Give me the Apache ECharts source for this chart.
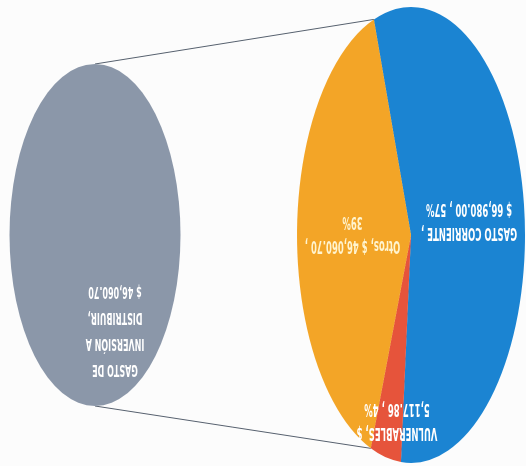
<!DOCTYPE html>
<html>
<head>
<meta charset="utf-8">
<script src="https://cdn.jsdelivr.net/npm/echarts@6/dist/echarts.min.js"></script>
<style>
html,body{margin:0;padding:0;width:526px;height:466px;overflow:hidden;background:#fcfcfc;}
#c{position:absolute;left:-263px;top:0;width:1052px;height:466px;transform:scale(-0.5,-1);transform-origin:50% 50%;}
</style>
</head>
<body>
<div id="c"></div>
<script>
// ---- data ----
const categories = ['GASTO CORRIENTE', 'VULNERABLES', 'Otros'];
const values = [66980.00, 5117.86, 46060.70];
const subCategories = ['GASTO DE INVERSIÓN A DISTRIBUIR'];
const subValues = [46060.70];

// ---- layout / style ----
const colors = ['#1b84d2', '#e6543b', '#f3a527'];
const subColor = '#8b97a9';
const MAIN = {cx: 230, cy: 231, r: 228, startCW: 161};
const SUB = {cx: 862, cy: 231, r: 171};

function fmt(v) {
  const s = v.toFixed(2).split('.');
  return s[0].replace(/\B(?=(\d{3})+(?!\d))/g, ',') + '.' + s[1];
}
const total = values.reduce((a, b) => a + b, 0);
function pct(v) { return Math.round(v / total * 100); }

const mainLabel = function (p) {
  const v = fmt(p.value), q = pct(p.value);
  if (p.dataIndex === 0) return p.name + ' ,\n$ ' + v + ' , ' + q + '%';
  if (p.dataIndex === 1) return p.name + ', $\n' + v + ' , ' + q + '%';
  return p.name + ', $ ' + v + ' ,\n' + q + '%';
};
const subLabel = function (p) {
  const w = p.name.split(' ');
  return w[0] + ' ' + w[1] + '\n' + w[2] + ' ' + w[3] + '\n' + w[4] + ',\n$ ' + fmt(p.value);
};

// connector endpoints: edges of the "Otros" slice on the main pie
const otrosSpan = values[2] / total * 360;
function pt(c, angCW) {
  const a = angCW * Math.PI / 180;
  return [c.cx + c.r * Math.sin(a), c.cy - c.r * Math.cos(a)];
}
const pA = pt(MAIN, MAIN.startCW);
const pB = pt(MAIN, MAIN.startCW - otrosSpan);

const chart = echarts.init(document.getElementById('c'), null, {renderer: 'canvas'});
chart.setOption({
  animation: false,
  backgroundColor: 'transparent',
  graphic: [
    {type: 'line', z: 0, shape: {x1: SUB.cx, y1: SUB.cy + SUB.r, x2: pA[0], y2: pA[1]}, style: {stroke: '#56606e', lineWidth: 1}},
    {type: 'line', z: 0, shape: {x1: SUB.cx, y1: SUB.cy - SUB.r, x2: pB[0], y2: pB[1]}, style: {stroke: '#56606e', lineWidth: 1}}
  ],
  series: [
    {
      type: 'pie',
      center: [MAIN.cx, MAIN.cy],
      radius: MAIN.r,
      startAngle: 90 - MAIN.startCW + 360,
      clockwise: true,
      silent: true,
      itemStyle: {borderWidth: 0},
      label: {
        position: 'inside',
        formatter: mainLabel,
        fontFamily: 'DejaVu Sans',
        fontWeight: 'bold',
        fontSize: 17,
        lineHeight: 24,
        color: '#ffffff',
        align: 'center'
      },
      labelLine: {show: false},
      labelLayout: function (p) {
        return p.dataIndex === 1 ? {dx: 2, dy: -71} : {};
      },
      data: categories.map((n, i) => ({
        name: n, value: values[i],
        itemStyle: {color: colors[i]},
        label: i === 2 ? {color: '#fff4cf'} : {}
      }))
    },
    {
      type: 'pie',
      center: [SUB.cx, SUB.cy],
      radius: SUB.r,
      silent: true,
      itemStyle: {borderWidth: 0, color: subColor},
      label: {
        position: 'center',
        formatter: subLabel,
        fontFamily: 'DejaVu Sans',
        fontWeight: 'bold',
        fontSize: 16,
        lineHeight: 26,
        color: '#ffffff',
        align: 'center'
      },
      labelLine: {show: false},
      labelLayout: {dx: -40, dy: -95},
      data: subCategories.map((n, i) => ({name: n, value: subValues[i]}))
    }
  ]
});
</script>
</body>
</html>
